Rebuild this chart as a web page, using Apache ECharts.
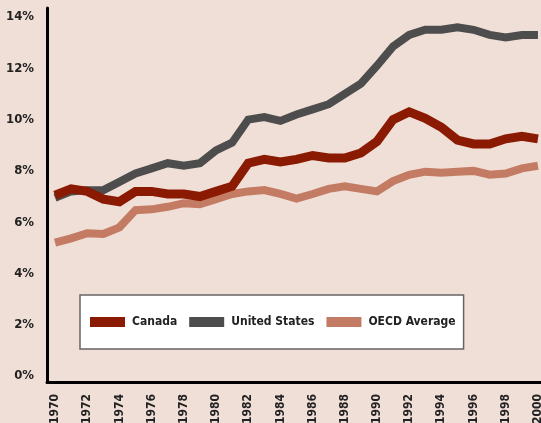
<!DOCTYPE html>
<html>
<head>
<meta charset="utf-8">
<script src="https://cdn.jsdelivr.net/npm/echarts@6/dist/echarts.min.js"></script>
<style>
  html, body { margin: 0; padding: 0; background: #f0dfd6; }
  #chart { width: 541px; height: 423px; }
</style>
</head>
<body>
<div id="chart"></div>
<script>
  const years = [];
  for (let y = 1970; y <= 2000; y++) years.push(String(y));

  const canada = [7.05, 7.3, 7.2, 6.9, 6.8, 7.2, 7.2, 7.1, 7.1, 7.0, 7.2, 7.4, 8.3, 8.45, 8.35, 8.45,
    8.6, 8.5, 8.5, 8.7, 9.15, 10.0, 10.3, 10.05, 9.7, 9.2, 9.05, 9.05, 9.25, 9.35, 9.25];
  const unitedStates = [6.95, 7.2, 7.25, 7.25, 7.57, 7.9, 8.1, 8.3, 8.2, 8.3, 8.8, 9.1, 10.0, 10.1, 9.95, 10.2,
    10.4, 10.6, 11.0, 11.4, 12.1, 12.85, 13.3, 13.5, 13.5, 13.6, 13.5, 13.3, 13.2, 13.3, 13.3];
  const oecd = [5.2, 5.37, 5.57, 5.54, 5.8, 6.47, 6.5, 6.6, 6.74, 6.7, 6.9, 7.1, 7.2, 7.25, 7.1, 6.92,
    7.1, 7.3, 7.4, 7.3, 7.2, 7.6, 7.85, 7.97, 7.93, 7.97, 8.0, 7.85, 7.9, 8.1, 8.2];

  const font = "'Liberation Sans Narrow', 'DejaVu Sans Condensed', sans-serif";

  const chart = echarts.init(document.getElementById('chart'));

  chart.setOption({
    backgroundColor: '#f0dfd6',
    animation: false,
    grid: { left: 47, right: -5, top: 8, bottom: 41, containLabel: false, outerBoundsMode: 'none' },
    legend: {
      data: ['Canada', 'United States', 'OECD Average'],
      left: 80,
      top: 295,
      orient: 'horizontal',
      icon: 'rect',
      itemWidth: 35,
      itemHeight: 10,
      itemGap: 12,
      backgroundColor: '#ffffff',
      borderColor: '#666666',
      borderWidth: 1.5,
      padding: [21, 8, 21, 10],
      textStyle: { fontFamily: font, fontWeight: 'bold', fontSize: 12, color: '#222', padding: [0, 0, 0, 2] }
    },
    xAxis: {
      type: 'category',
      data: years,
      boundaryGap: true,
      axisLine: { onZero: false, lineStyle: { color: '#000', width: 3 } },
      axisTick: { show: false },
      axisLabel: {
        interval: 1,
        rotate: 90,
        margin: 12,
        fontFamily: font,
        fontWeight: 'bold',
        fontSize: 12,
        color: '#222'
      },
      splitLine: { show: false }
    },
    yAxis: {
      type: 'value',
      min: -0.23,
      max: 14.35,
      splitNumber: 7,
      axisLine: { show: true, lineStyle: { color: '#000', width: 3 } },
      axisTick: { show: false },
      splitLine: { show: false },
      axisLabel: {
        showMinLabel: false,
        showMaxLabel: false,
        margin: 13,
        fontFamily: font,
        fontWeight: 'bold',
        fontSize: 13,
        color: '#222',
        formatter: v => (Math.abs(v - Math.round(v)) < 1e-6 ? v + '%' : '')
      }
    },
    series: [
      {
        name: 'OECD Average', type: 'line', data: oecd, symbol: 'none',
        lineStyle: { width: 8, color: '#c47b63', join: 'miter' },
        itemStyle: { color: '#c47b63' }
      },
      {
        name: 'United States', type: 'line', data: unitedStates, symbol: 'none',
        lineStyle: { width: 8, color: '#4d4d4d', join: 'miter' },
        itemStyle: { color: '#4d4d4d' }
      },
      {
        name: 'Canada', type: 'line', data: canada, symbol: 'none',
        lineStyle: { width: 9, color: '#8a1a02', join: 'miter' },
        itemStyle: { color: '#8a1a02' }
      }
    ]
  });

  window.addEventListener('resize', () => chart.resize());
</script>
</body>
</html>
